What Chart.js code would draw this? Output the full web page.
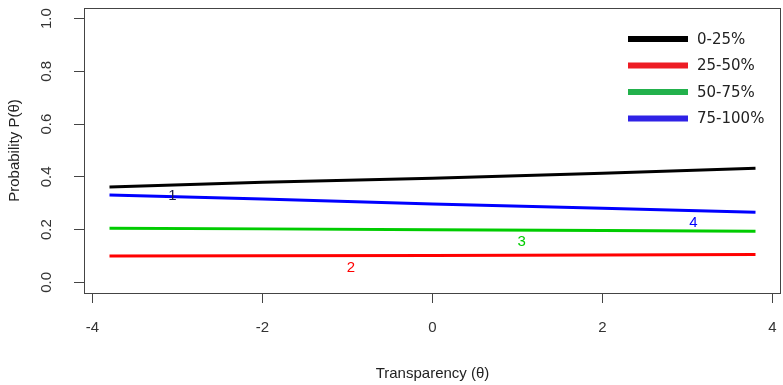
<!DOCTYPE html>
<html>
<head>
<meta charset="utf-8">
<script src="https://cdn.jsdelivr.net/npm/chart.js@4/dist/chart.umd.min.js"></script>
<style>
  html, body { margin: 0; padding: 0; background: #fff; }
  #wrap { width: 783px; height: 385px; }
</style>
</head>
<body>
<div id="wrap"><canvas id="chart"></canvas></div>
<script>
// theta grid and category probabilities
const theta = [-3.8, -2, 0, 2, 3.8];
const p1 = [0.362, 0.380, 0.395, 0.414, 0.433];  // 0-25%
const p2 = [0.100, 0.101, 0.102, 0.104, 0.106];  // 25-50%
const p3 = [0.205, 0.203, 0.200, 0.197, 0.194];  // 50-75%
const p4 = [0.331, 0.316, 0.297, 0.281, 0.266];  // 75-100%

const seriesNames = ['0-25%', '25-50%', '50-75%', '75-100%'];
const lineColors = ['#000000', '#ff0000', '#00cc00', '#0000ff'];
const legendColors = ['#000000', '#ed1c24', '#22b14c', '#2f22e6'];

// curve number labels: [theta, prob]
const curveLabels = ['1', '2', '3', '4'];
const labelColors = ['#1a1a4a', '#ff0000', '#00cc00', '#0000ff'];
const labelPos = [[-3.06, 0.327], [-0.96, 0.057], [1.05, 0.152], [3.07, 0.224]];

const xTicks = [-4, -2, 0, 2, 4];
const yTicks = [0, 0.2, 0.4, 0.6, 0.8, 1.0];

const axisFont = '15px "Liberation Sans", Arial, sans-serif';

function pts(vals) {
    return theta.map((t, i) => ({ x: t, y: vals[i] }));
}

const boxPlugin = {
    id: 'boxAndText',
    afterDatasetsDraw(chart) {
        const { ctx, chartArea: a, scales } = chart;
        ctx.save();
        ctx.strokeStyle = '#444';
        ctx.lineWidth = 1;
        ctx.strokeRect(a.left + 0.5, a.top + 0.5, a.right - a.left - 1, a.bottom - a.top);

        // y tick labels, rotated like R's default axis
        ctx.font = axisFont;
        ctx.fillStyle = '#333';
        ctx.textAlign = 'center';
        ctx.textBaseline = 'middle';
        yTicks.forEach(v => {
            ctx.save();
            ctx.translate(47, scales.y.getPixelForValue(v));
            ctx.rotate(-Math.PI / 2);
            ctx.fillText(v.toFixed(1), 0, 0);
            ctx.restore();
        });

        // curve numbers
        curveLabels.forEach((lab, i) => {
            ctx.fillStyle = labelColors[i];
            ctx.fillText(lab, scales.x.getPixelForValue(labelPos[i][0]),
                              scales.y.getPixelForValue(labelPos[i][1]));
        });

        // legend (top right, no frame)
        ctx.font = '15px "DejaVu Sans", sans-serif';
        ctx.textAlign = 'left';
        seriesNames.forEach((name, i) => {
            const yy = 39 + i * 26.5;
            ctx.fillStyle = legendColors[i];
            ctx.fillRect(628, yy - 3, 60, 6);
            ctx.fillStyle = '#222';
            ctx.fillText(name, 697, yy + 1);
        });
        ctx.restore();
    }
};

new Chart(document.getElementById('chart'), {
    type: 'line',
    data: {
        datasets: [p1, p2, p3, p4].map((vals, i) => ({
            label: seriesNames[i],
            data: pts(vals),
            borderColor: lineColors[i],
            borderWidth: 3,
            pointRadius: 0,
            tension: 0,
            fill: false
        }))
    },
    options: {
        responsive: true,
        maintainAspectRatio: false,
        animation: false,
        layout: { padding: { top: 8, right: 2, left: 0, bottom: 0 } },
        plugins: { legend: { display: false }, tooltip: { enabled: false } },
        scales: {
            x: {
                type: 'linear',
                min: -4.1,
                max: 4.1,
                afterBuildTicks: s => { s.ticks = xTicks.map(v => ({ value: v })); },
                afterFit: s => { s.height = 92; s.paddingLeft = 0; s.paddingRight = 0; },
                grid: { drawOnChartArea: false, tickLength: 10, color: '#444' },
                border: { display: false },
                ticks: { color: '#333', padding: 16, font: { size: 15, family: '"Liberation Sans", Arial' }, maxRotation: 0 },
                title: { display: true, text: 'Transparency (θ)', color: '#222', padding: { top: 18, bottom: 2 },
                         font: { size: 15, family: '"Liberation Sans", Arial' } }
            },
            y: {
                min: -0.04,
                max: 1.04,
                afterBuildTicks: s => { s.ticks = yTicks.map(v => ({ value: v })); },
                afterFit: s => { s.width = 84; },
                grid: { drawOnChartArea: false, tickLength: 10, color: '#444' },
                border: { display: false },
                ticks: { display: false },
                title: { display: true, text: 'Probability P(θ)', color: '#222', padding: { top: 6, bottom: 4 },
                         font: { size: 15, family: '"Liberation Sans", Arial' } }
            }
        }
    },
    plugins: [boxPlugin]
});
</script>
</body>
</html>
